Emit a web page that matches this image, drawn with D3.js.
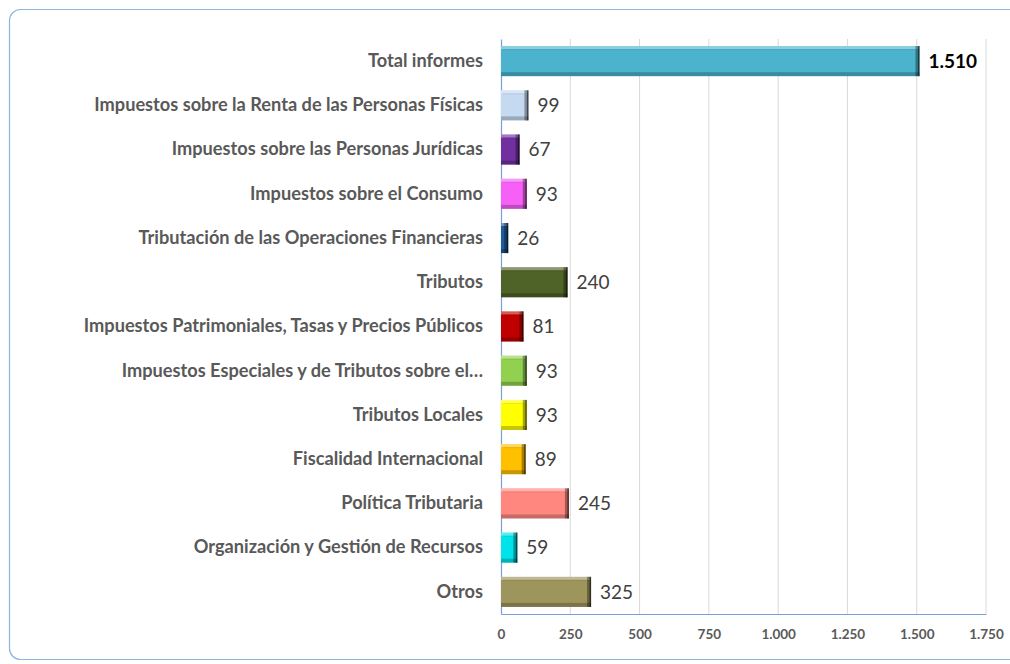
<!DOCTYPE html>
<html>
<head>
<meta charset="utf-8">
<script src="https://cdn.jsdelivr.net/npm/d3@7"></script>
<style>
  body { margin: 0; background: #fff; }
  svg { display: block; font-family: Lato, "Open Sans", sans-serif; }
</style>
</head>
<body>
<svg id="chart" width="1010" height="664"></svg>
<script>
// data
const categories = [
  "Total informes",
  "Impuestos sobre la Renta de las Personas Físicas",
  "Impuestos sobre las Personas Jurídicas",
  "Impuestos sobre el Consumo",
  "Tributación de las Operaciones Financieras",
  "Tributos",
  "Impuestos Patrimoniales, Tasas y Precios Públicos",
  "Impuestos Especiales y de Tributos sobre el…",
  "Tributos Locales",
  "Fiscalidad Internacional",
  "Política Tributaria",
  "Organización y Gestión de Recursos",
  "Otros"
];
const values = [1510, 99, 67, 93, 26, 240, 81, 93, 93, 89, 245, 59, 325];
const colors = ["#4bb3cd", "#c5d9f1", "#7030a0", "#f660f6", "#1f5c99", "#4f6228",
                "#c00000", "#92d050", "#ffff00", "#ffc000", "#ff8780", "#00e3ea", "#9d955c"];
const ticks = [0, 250, 500, 750, 1000, 1250, 1500, 1750];

const svg = d3.select("#chart");
const margin = { top: 39, right: 24, bottom: 50, left: 501 };
const width = 1010 - margin.left - margin.right,
      height = 664 - margin.top - margin.bottom;
const FONT = "Lato, 'Open Sans', sans-serif";

const esLocale = d3.formatLocale({ decimal: ",", thousands: ".", grouping: [3], currency: ["", "€"] });
const fmt = esLocale.format(",d");

// rounded frame
svg.append("rect")
  .attr("x", 9.5).attr("y", 9.5)
  .attr("width", 1020).attr("height", 650)
  .attr("rx", 11)
  .attr("fill", "none")
  .attr("stroke", "#8eb4e3")
  .attr("stroke-width", 1.2);

const g = svg.append("g").attr("transform", "translate(" + margin.left + "," + margin.top + ")");

var x = d3.scaleLinear().domain([0, 1750]).range([0, 485]);
var y = d3.scaleBand().domain(categories).range([0, height]).paddingInner(0.32).paddingOuter(0.16);

// gridlines
g.selectAll(".grid")
  .data(ticks.slice(1))
  .enter().append("line")
  .attr("class", "grid")
  .attr("x1", d => x(d)).attr("x2", d => x(d))
  .attr("y1", 0).attr("y2", height)
  .attr("stroke", "#d9d9d9")
  .attr("stroke-width", 1);

// x axis
const xAxis = g.append("g")
  .attr("transform", "translate(0," + height + ")")
  .call(d3.axisBottom(x).tickValues(ticks).tickFormat(fmt).tickSize(0).tickPadding(15))
  .attr("font-family", FONT);
xAxis.select(".domain").attr("stroke", "#7a9fd6").attr("stroke-width", 1.2);
xAxis.selectAll("text")
  .attr("fill", "#595959")
  .style("font-size", "13.5px")
  .style("font-weight", "bold");

// y axis
const yAxis = g.append("g")
  .call(d3.axisLeft(y).tickSize(0).tickPadding(18))
  .attr("font-family", FONT);
yAxis.select(".domain").attr("stroke", "#7a9fd6").attr("stroke-width", 1.2);
yAxis.selectAll("text")
  .attr("fill", "#595959")
  .style("font-size", "18.2px")
  .style("font-weight", "bold");

// bars with bevel look
const bar = g.selectAll(".bar")
  .data(categories)
  .enter().append("g")
  .attr("class", "bar")
  .attr("transform", d => "translate(0," + y(d) + ")");

const bh = y.bandwidth();
bar.append("rect")
  .attr("x", 0).attr("y", 0)
  .attr("width", (d, i) => x(values[i]))
  .attr("height", bh)
  .attr("fill", (d, i) => colors[i]);
// top highlight
bar.append("rect")
  .attr("x", 0).attr("y", 0)
  .attr("width", (d, i) => x(values[i]))
  .attr("height", 3)
  .attr("fill", "#fff").attr("opacity", 0.35);
bar.append("rect")
  .attr("x", 2).attr("y", 3)
  .attr("width", (d, i) => Math.max(0, x(values[i]) - 6))
  .attr("height", 1)
  .attr("fill", "#000").attr("opacity", 0.08);
// bottom shadow
bar.append("rect")
  .attr("x", 0).attr("y", bh - 4)
  .attr("width", (d, i) => x(values[i]))
  .attr("height", 4)
  .attr("fill", "#000").attr("opacity", 0.22);
// right shadow
bar.append("rect")
  .attr("x", (d, i) => x(values[i]) - 4).attr("y", 0)
  .attr("width", (d, i) => Math.min(4, x(values[i])))
  .attr("height", bh)
  .attr("fill", "#000").attr("opacity", 0.35);
bar.append("rect")
  .attr("x", (d, i) => x(values[i]) - 1.5).attr("y", 0)
  .attr("width", 1.5)
  .attr("height", bh)
  .attr("fill", "#000").attr("opacity", 0.5);

// value labels
bar.append("text")
  .attr("x", (d, i) => x(values[i]) + 9)
  .attr("y", bh / 2)
  .attr("dy", "0.36em")
  .attr("fill", (d, i) => i === 0 ? "#000" : "#404040")
  .style("font-size", "19px")
  .style("font-weight", (d, i) => i === 0 ? "bold" : "normal")
  .text((d, i) => fmt(values[i]));
</script>
</body>
</html>
